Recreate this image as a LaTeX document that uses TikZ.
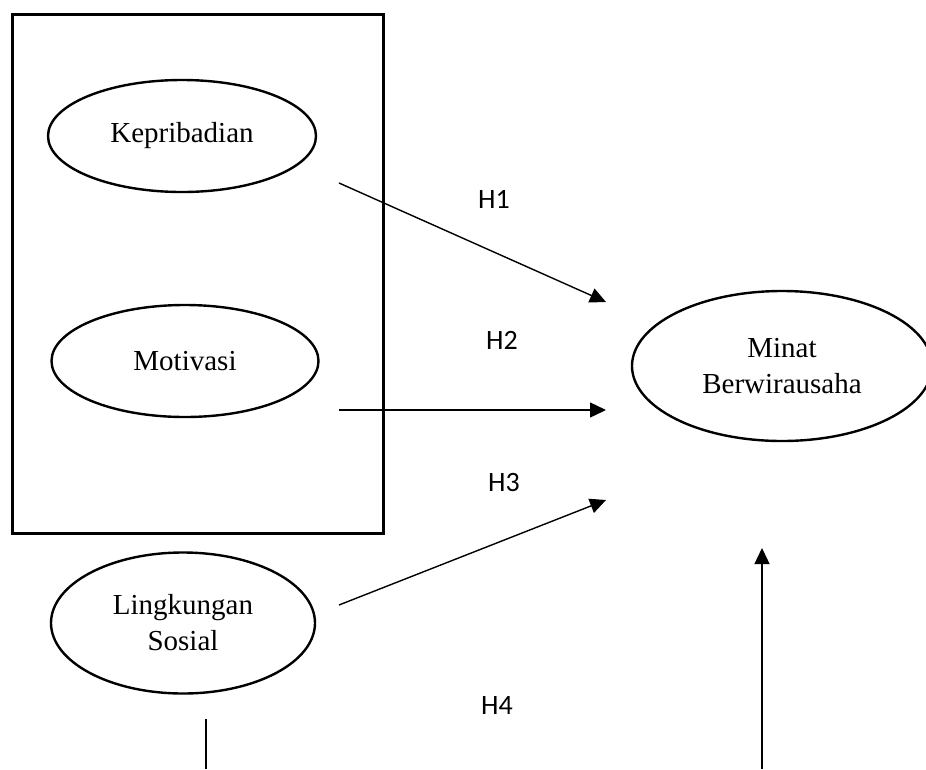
\documentclass[tikz,border=0pt]{standalone}
\usepackage{fontspec}
\setmainfont{Liberation Serif}
\newfontfamily\labelfont{Carlito}
\usetikzlibrary{shapes.geometric,arrows.meta}
\begin{document}
\begin{tikzpicture}[x=1pt,y=-1pt,
  var/.style={ellipse,draw,line width=2.4pt,inner sep=0pt,align=center,
    font=\fontsize{29}{36}\selectfont},
  conn/.style={line width=1.4pt,-{Triangle[length=16pt,width=15pt]}},
  hlab/.style={font=\labelfont\fontsize{28}{32}\selectfont}]
\useasboundingbox (0,0) rectangle (926,769);
\clip (0,0) rectangle (926,769);
\node[draw,line width=3pt,minimum width=371pt,minimum height=519pt,inner sep=0pt] (box) at (197.5,273.5) {};
\node[var,minimum width=268pt,minimum height=112pt] (kep) at (182,136) {Kepribadian};
\node[var,minimum width=267pt,minimum height=112pt] (mot) at (185,361) {Motivasi};
\node[var,minimum width=264pt,minimum height=141pt] (ling) at (183,623) {Lingkungan\\Sosial};
\node[var,minimum width=300pt,minimum height=150pt] (minat) at (782,366) {Minat\\Berwirausaha};
\coordinate (a1) at (339,183);
\coordinate (b1) at (606,302);
\coordinate (a2) at (339,410);
\coordinate (b2) at (606,410);
\coordinate (a3) at (339,605);
\coordinate (b3) at (606,500);
\coordinate (a4) at (206,719);
\coordinate (c4) at (206,769);
\coordinate (d4) at (762,769);
\coordinate (b4) at (762,548);
\draw[conn] (a1) -- (b1);
\draw[conn] (a2) -- (b2);
\draw[conn] (a3) -- (b3);
\draw[line width=1.4pt] (a4) -- (c4);
\draw[conn] (d4) -- (b4);
\node[hlab] (h1) at (494,199) {H1};
\node[hlab] (h2) at (502,340) {H2};
\node[hlab] (h3) at (504,483) {H3};
\node[hlab] (h4) at (497,705) {H4};
\end{tikzpicture}
\end{document}
